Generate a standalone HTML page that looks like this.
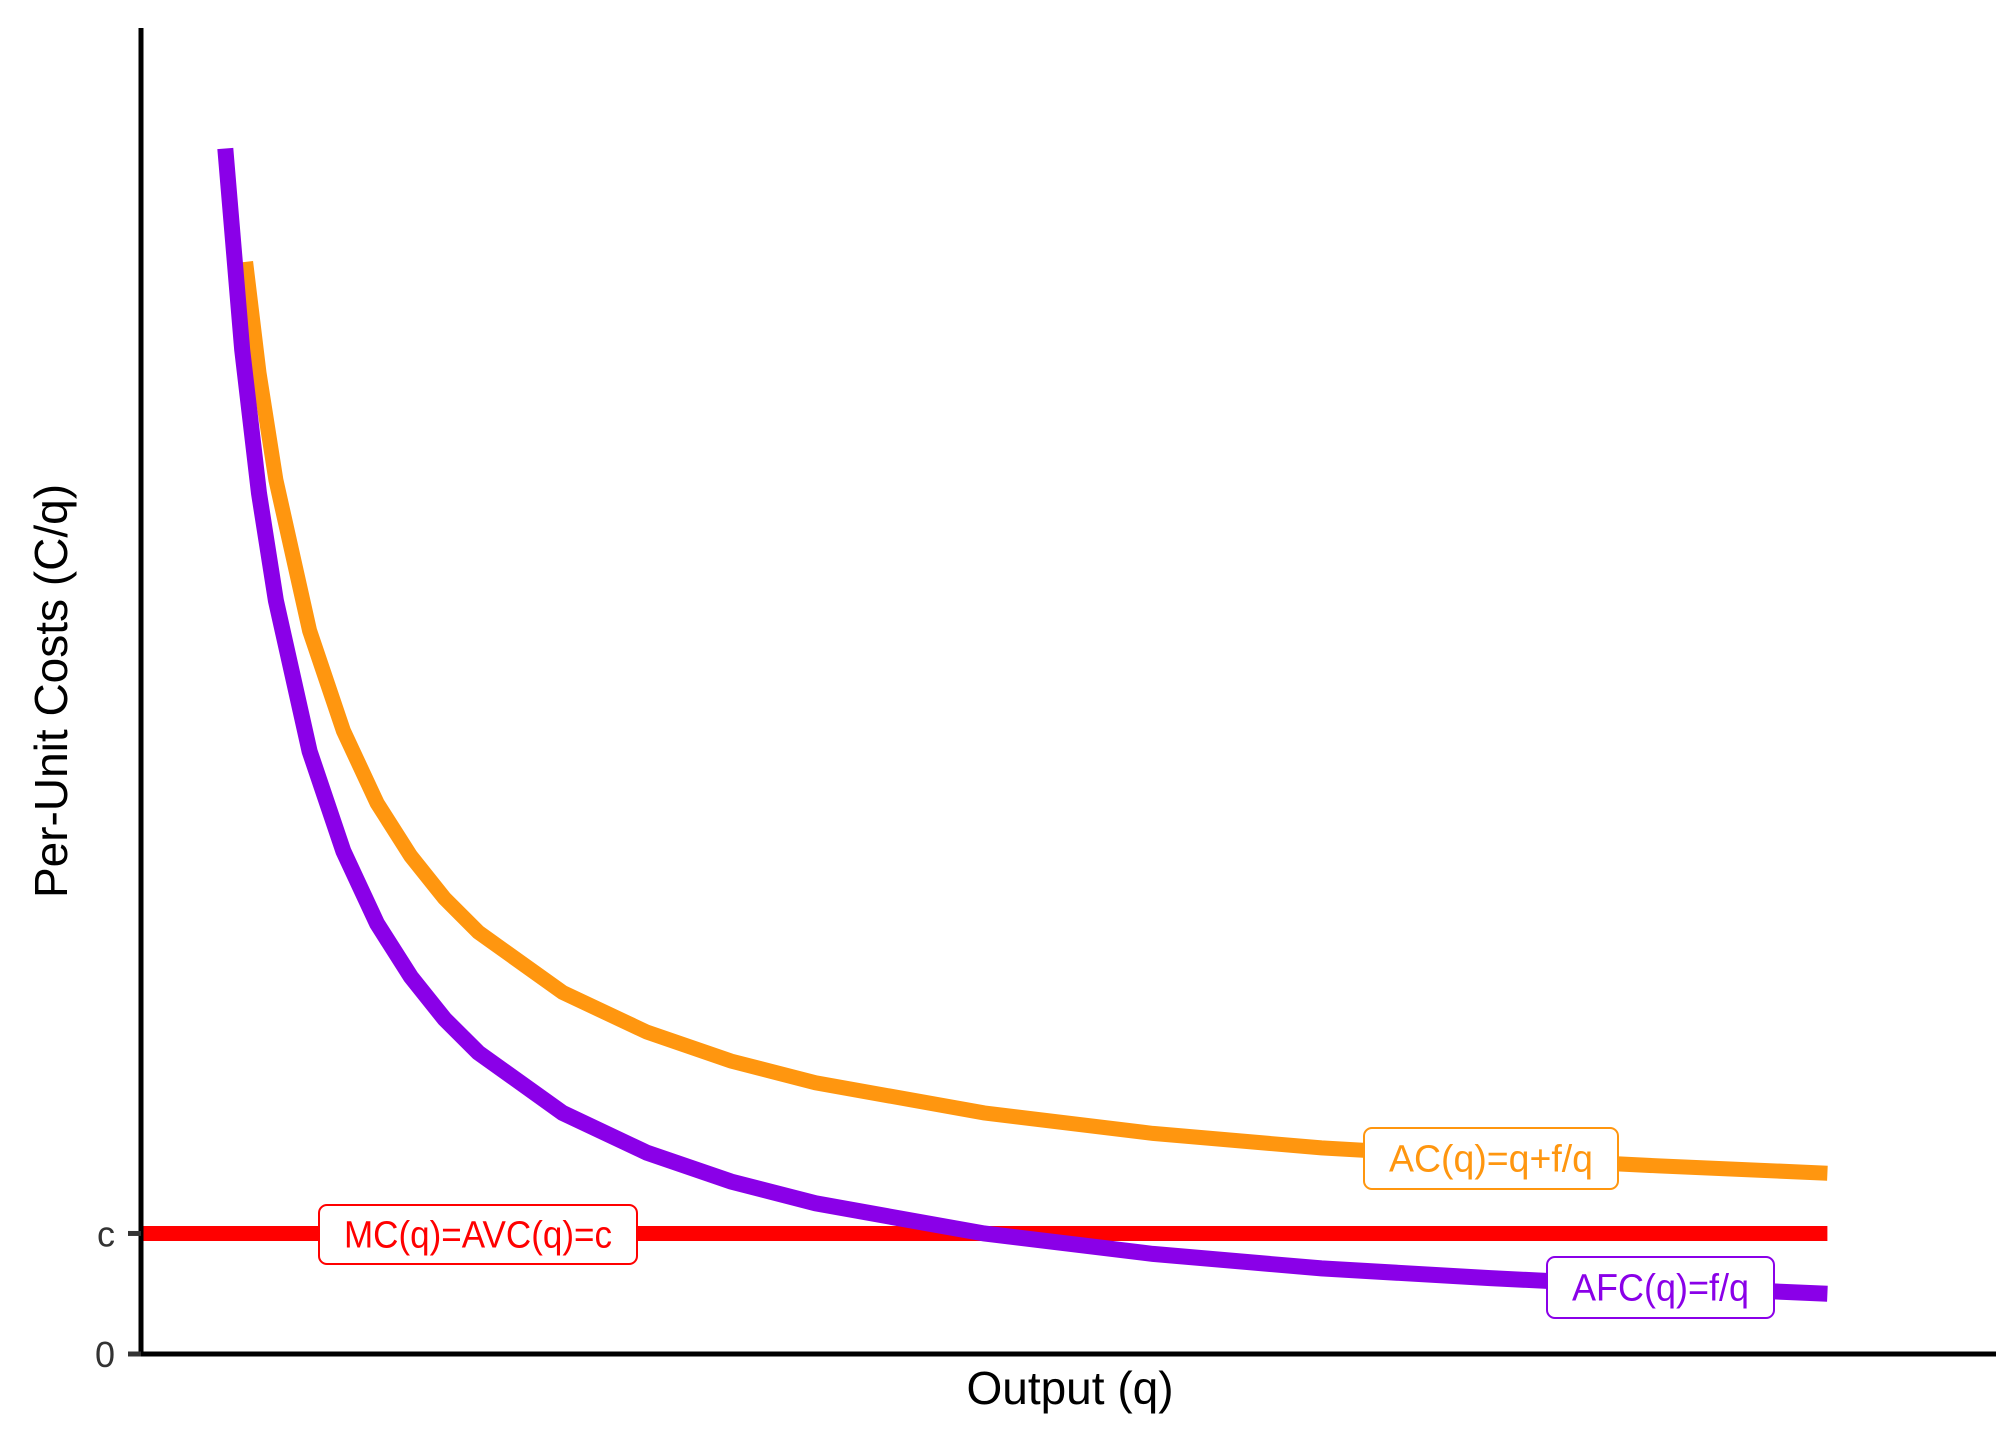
<!DOCTYPE html>
<html><head><meta charset="utf-8"><style>
html,body{margin:0;padding:0;background:#fff;}
svg{display:block;font-family:"Liberation Sans",sans-serif;}
</style></head><body>
<svg id="chart" width="2016" height="1440" viewBox="0 0 2016 1440" xmlns="http://www.w3.org/2000/svg">
<g id="marks"></g>
<g id="axes"></g>
<g id="labels"></g>
</svg>
<script>
const afcQ = [0.5,0.6,0.7,0.8,1,1.2,1.4,1.6,1.8,2,2.5,3,3.5,4,5,6,7,8,9,10];
const afcValues = [10,8.33,7.14,6.25,5,4.17,3.57,3.13,2.78,2.5,2,1.67,1.43,1.25,1,0.83,0.71,0.63,0.56,0.5];
const acQ = [0.62,0.7,0.8,1,1.2,1.4,1.6,1.8,2,2.5,3,3.5,4,5,6,7,8,9,10];
const acValues = [9.06,8.14,7.25,6,5.17,4.57,4.13,3.78,3.5,3,2.67,2.43,2.25,2,1.83,1.71,1.63,1.56,1.5];
const mcQ = [0,10];
const mcValues = [1,1];
const yTickValues = [0,1];
const yTickLabels = ["0","c"];

const NS="http://www.w3.org/2000/svg";
const L=141,R=1996,T=28,B=1354,XMAX=11,YMAX=11;
function xs(v){return L+(R-L)*v/XMAX;}
function ys(v){return B-(B-T)*v/YMAX;}
function mk(tag,parent,attrs){const e=document.createElementNS(NS,tag);for(const k in attrs)e.setAttribute(k,attrs[k]);parent.appendChild(e);return e;}
const marks=document.getElementById('marks'),axes=document.getElementById('axes'),labels=document.getElementById('labels');
function line(qs,vs,color,w,name){
  const pts=qs.map((q,i)=>xs(q).toFixed(1)+','+ys(vs[i]).toFixed(1)).join(' ');
  const p=mk('polyline',marks,{points:pts,fill:'none',stroke:color,'stroke-width':w,'stroke-linejoin':'miter','stroke-linecap':'butt'});
  
  
}
line(mcQ,mcValues,'#ff0000',15,'mc-avc-line');
line(acQ,acValues,'#ff960f',15,'ac-curve');
line(afcQ,afcValues,'#8a00e8',16,'afc-curve');

// axes
const ya=mk('line',axes,{x1:L,y1:T,x2:L,y2:B+2,stroke:'#000','stroke-width':5});


const xa=mk('line',axes,{x1:L-2,y1:B,x2:R,y2:B,stroke:'#000','stroke-width':5});


yTickValues.forEach((v,i)=>{
  const t=mk('line',axes,{x1:L-13,y1:ys(v),x2:L,y2:ys(v),stroke:'#333','stroke-width':5});
  
  
  const tx=mk('text',axes,{x:L-26,y:ys(v)+13,'text-anchor':'end','font-size':36,fill:'#333'});
  tx.textContent=yTickLabels[i];
  
  
});
const xt=mk('text',axes,{x:1070,y:1404,'text-anchor':'middle','font-size':46,fill:'#000'});
xt.textContent='Output (q)';


const yt=mk('text',axes,{x:0,y:0,'text-anchor':'middle','font-size':46,fill:'#000',transform:'translate(67,691) rotate(-90)'});
yt.textContent='Per-Unit Costs (C/q)';



function label(x,y,w,h,text,color,name){
  const r=mk('rect',labels,{x:x,y:y,width:w,height:h,rx:8,fill:'#fff',stroke:color,'stroke-width':2});
  
  
  const t=mk('text',labels,{x:x+w/2,y:y+h/2+13,'text-anchor':'middle','font-size':38,fill:color,textLength:w-50,lengthAdjust:'spacingAndGlyphs'});
  t.textContent=text;
  
  
}
label(319,1205,318,59,'MC(q)=AVC(q)=c','#ff0000','mc-label');
label(1364,1128,254,61,'AC(q)=q+f/q','#ff960f','ac-label');
label(1547,1257,227,61,'AFC(q)=f/q','#8a00e8','afc-label');
</script>
</body></html>
